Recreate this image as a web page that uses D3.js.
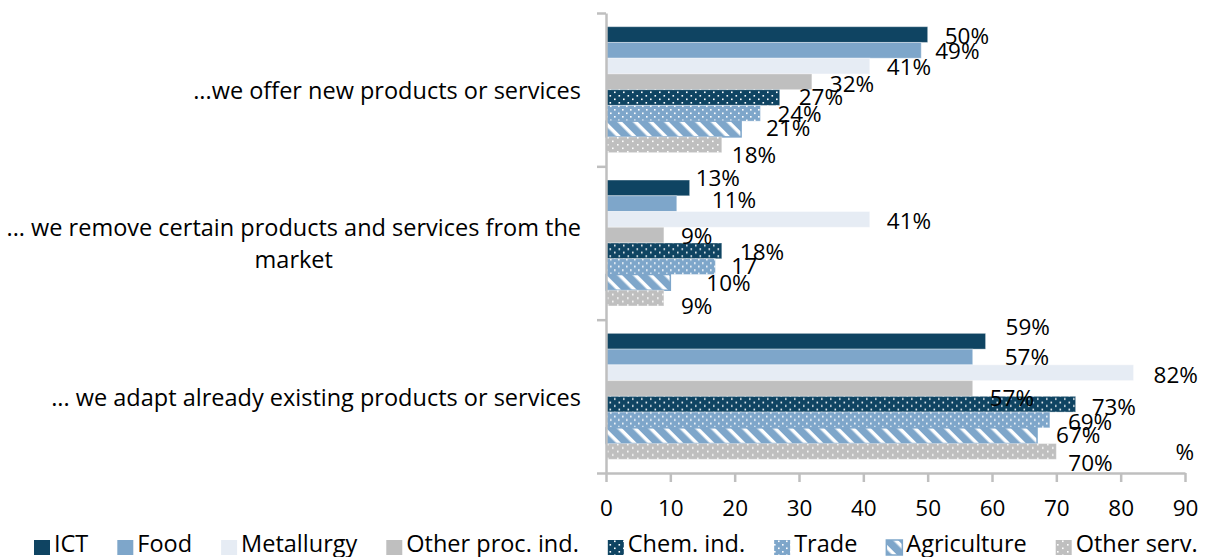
<!DOCTYPE html>
<html>
<head>
<meta charset="utf-8">
<script src="https://cdn.jsdelivr.net/npm/d3@7"></script>
<style>
  html, body { margin: 0; padding: 0; background: #fff; }
  svg { display: block; }
  text { font-family: "Open Sans", sans-serif; fill: #000; }
</style>
</head>
<body>
<svg id="chart" width="1207" height="557"></svg>
<script>
// Survey answers: how firms change their offer, by sector (share of firms, %)
const categories = [
  "...we offer new products or services",
  "... we remove certain products and services from the\nmarket",
  "... we adapt already existing products or services"
];
const series = ["ICT", "Food", "Metallurgy", "Other proc. ind.", "Chem. ind.", "Trade", "Agriculture", "Other serv."];
const offerValues  = [50, 49, 41, 32, 27, 24, 21, 18];
const removeValues = [13, 11, 41,  9, 18, 17, 10,  9];
const adaptValues  = [59, 57, 82, 57, 73, 69, 67, 70];
const xTicks = [0, 10, 20, 30, 40, 50, 60, 70, 80, 90];
// label text shown next to the bars (one entry per bar, same order as values)
const offerLabels  = ["50%", "49%", "41%", "32%", "27%", "24%", "21%", "18%"];
const removeLabels = ["13%", "11%", "41%", "9%", "18%", "17", "10%", "9%"];
const adaptLabels  = ["59%", "57%", "82%", "57%", "73%", "69%", "67%", "70%"];

const valuesByCategory = [offerValues, removeValues, adaptValues];
const labelsByCategory = [offerLabels, removeLabels, adaptLabels];

// label placement nudges (dx from bar end, dy from bar centre), px
const labelNudges = [
  [[17, 2], [14, 1], [17, 1], [18, 2], [19, 0], [17, 1], [25, -1], [10, 10]],
  [[6, -10], [35, -4], [17, 2], [17, 1.5], [18, 1], [16, 0], [36, 0.5], [17, 8.5]],
  [[20, -14], [32, 0], [20, 2], [17, 9.5], [16, 3], [18, 1.7], [19, -0.8], [12, 11.5]]
];

const colors = {
  navy: "#0f4462",
  blue: "#7ea6ca",
  pale: "#e6ecf4",
  grey: "#bfbfbf"
};
const fills = ["url(#p-ict)", "url(#p-food)", "url(#p-metal)", "url(#p-proc)",
               "url(#p-chem)", "url(#p-trade)", "url(#p-agri)", "url(#p-serv)"];

const svg = d3.select("#chart");
const defs = svg.append("defs");

function solid(id, c) {
  const p = defs.append("pattern").attr("id", id).attr("patternUnits", "userSpaceOnUse")
    .attr("width", 4).attr("height", 4);
  p.append("rect").attr("width", 4).attr("height", 4).attr("fill", c);
}
function dotted(id, c, w, h, dots) {
  const p = defs.append("pattern").attr("id", id).attr("patternUnits", "userSpaceOnUse")
    .attr("width", w).attr("height", h);
  p.append("rect").attr("width", w).attr("height", h).attr("fill", c);
  dots.forEach(([dx, dy]) => p.append("rect").attr("x", dx).attr("y", dy)
    .attr("width", 1.6).attr("height", 1.6).attr("fill", "#fff"));
}
solid("p-ict", colors.navy);
solid("p-food", colors.blue);
solid("p-metal", colors.pale);
solid("p-proc", colors.grey);
dotted("p-chem", colors.navy, 9, 7, [[2, 1.5], [6.5, 5]]);
dotted("p-trade", colors.blue, 8, 7, [[2, 1.5], [6, 5]]);
dotted("p-serv", colors.grey, 10, 7, [[2, 1.5], [7, 5]]);
(function () {
  const p = defs.append("pattern").attr("id", "p-agri").attr("patternUnits", "userSpaceOnUse")
    .attr("width", 11).attr("height", 11).attr("patternTransform", "rotate(-45)");
  p.append("rect").attr("width", 11).attr("height", 11).attr("fill", "#fff");
  p.append("rect").attr("x", 0).attr("width", 7.5).attr("height", 11).attr("fill", colors.blue);
})();

// scales
const x = d3.scaleLinear().domain([0, 90]).range([606, 1185]);
const yGroup = d3.scaleBand().domain(d3.range(categories.length)).range([13, 473]);
const ySeries = d3.scaleBand().domain(series)
  .range([13.7, yGroup.bandwidth() - 13.7]);
const yEdge = d3.scaleLinear().domain([0, categories.length]).range([13, 473]);

const axisColor = "#bfbfbf";
const numSize = "22.5px";
const wordSize = "23.5px";

// bars
const groups = svg.append("g").selectAll("g").data(valuesByCategory).join("g")
  .attr("transform", (d, i) => `translate(0,${yGroup(i)})`);

groups.selectAll("rect").data((vals, gi) => vals.map((v, si) => ({ v, si, gi })))
  .join("rect")
  .attr("x", x(0))
  .attr("y", d => ySeries(series[d.si]))
  .attr("width", d => x(d.v) - x(0))
  .attr("height", ySeries.bandwidth())
  .attr("fill", d => fills[d.si])
  .attr("stroke", d => d.si === 6 ? colors.blue : "#ffffff")
  .attr("stroke-opacity", d => d.si === 6 ? 1 : 0.35)
  .attr("stroke-width", d => d.si === 6 ? 1.5 : 1);

// value labels
groups.selectAll("text").data((vals, gi) => vals.map((v, si) => ({ v, si, gi })))
  .join("text")
  .attr("x", d => x(d.v) + labelNudges[d.gi][d.si][0])
  .attr("y", d => ySeries(series[d.si]) + ySeries.bandwidth() / 2 + labelNudges[d.gi][d.si][1])
  .attr("dy", "0.35em")
  .style("font-size", numSize)
  .text(d => labelsByCategory[d.gi][d.si]);

// stray percent sign near the right end of the last group
svg.append("text")
  .attr("x", x(90) + 9).attr("y", yGroup(2) + yGroup.bandwidth() - 21)
  .attr("dy", "0.35em").attr("text-anchor", "end")
  .style("font-size", numSize).text("%");

// x axis
const xAxis = svg.append("g").attr("transform", `translate(0,473)`)
  .call(d3.axisBottom(x).tickValues(xTicks).tickSize(9).tickSizeOuter(0));
xAxis.select(".domain").attr("stroke", axisColor).attr("stroke-width", 2.5);
xAxis.selectAll(".tick line").attr("stroke", axisColor).attr("stroke-width", 2.5);
xAxis.selectAll(".tick text").attr("y", 35).attr("dy", "0.35em")
  .style("font-size", numSize).style("font-family", null).attr("fill", "#000");

// y axis: ticks at group boundaries
const yAxis = svg.append("g").attr("transform", `translate(${x(0)},0)`)
  .call(d3.axisLeft(yEdge).tickValues(d3.range(categories.length + 1)).tickSize(9)
    .tickSizeOuter(0).tickFormat(""));
yAxis.select(".domain").attr("stroke", axisColor).attr("stroke-width", 2.5);
yAxis.selectAll(".tick line").attr("stroke", axisColor).attr("stroke-width", 2.5);

// category labels, right aligned with wrapped lines centred
const catG = svg.append("g");
categories.forEach((c, i) => {
  const lines = c.split("\n");
  const lh = 32;
  const cy = yGroup(i) + yGroup.bandwidth() / 2 + 1;
  const t = catG.append("text").style("font-size", wordSize).attr("text-anchor", "middle");
  lines.forEach((ln, k) => {
    t.append("tspan").attr("y", cy + (k - (lines.length - 1) / 2) * lh).attr("dy", "0.35em").text(ln);
  });
  let maxW = 0;
  t.selectAll("tspan").each(function () { maxW = Math.max(maxW, this.getComputedTextLength()); });
  t.selectAll("tspan").attr("x", 581 - maxW / 2);
});

// legend
const legend = svg.append("g");
let lx = 34;
series.forEach((s, i) => {
  legend.append("rect").attr("x", lx).attr("y", 540).attr("width", 16).attr("height", 15)
    .attr("fill", fills[i])
    .attr("stroke", i === 6 ? colors.blue : "none").attr("stroke-width", 1.5);
  const t = legend.append("text").attr("x", lx + 20).attr("y", 552)
    .style("font-size", wordSize).text(s);
  lx += 20 + t.node().getComputedTextLength() + 29;
});
</script>
</body>
</html>
